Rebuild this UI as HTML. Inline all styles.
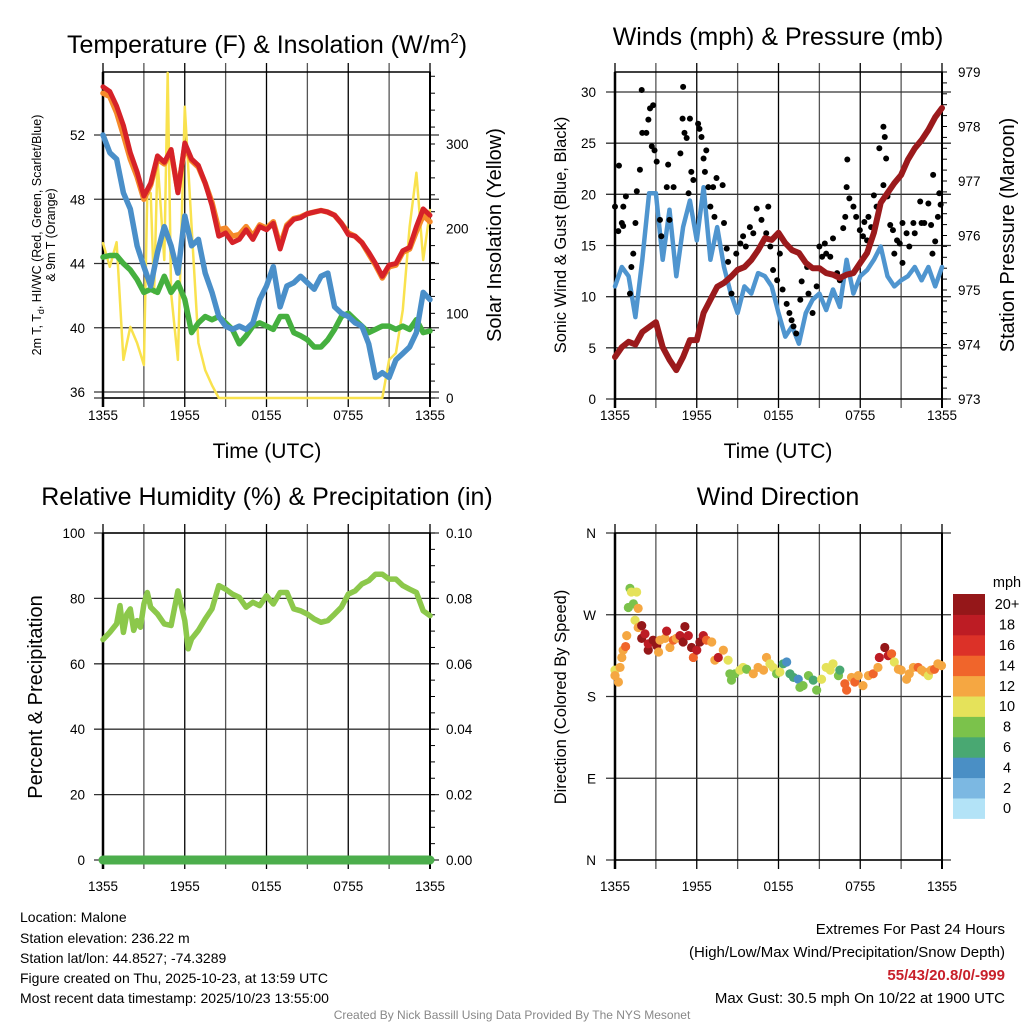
<!DOCTYPE html>
<html><head><meta charset="utf-8">
<style>
html,body{margin:0;padding:0;background:#fff;}
svg{display:block;font-family:"Liberation Sans",Arial,sans-serif;}
</style></head>
<body>
<svg id="c" width="1024" height="1024" viewBox="0 0 1024 1024" xmlns="http://www.w3.org/2000/svg">
<rect width="1024" height="1024" fill="#fff"/>
<text x="267" y="53" font-size="25" text-anchor="middle">Temperature (F) &amp; Insolation (W/m<tspan dy="-10" font-size="15">2</tspan><tspan dy="10">)</tspan></text>
<text x="778" y="45" font-size="25" text-anchor="middle">Winds (mph) &amp; Pressure (mb)</text>
<text x="267" y="505" font-size="25" text-anchor="middle">Relative Humidity (%) &amp; Precipitation (in)</text>
<text x="778" y="505" font-size="25" text-anchor="middle">Wind Direction</text>
<text x="267" y="458" font-size="21" text-anchor="middle">Time (UTC)</text>
<text x="778" y="458" font-size="21" text-anchor="middle">Time (UTC)</text>
<text transform="translate(41,235) rotate(-90)" font-size="12.5" text-anchor="middle">2m T, T<tspan dy="3" font-size="9">d</tspan><tspan dy="-3">, HI/WC (Red, Green, Scarlet/Blue)</tspan></text>
<text transform="translate(55,235) rotate(-90)" font-size="12.5" text-anchor="middle">&amp; 9m T (Orange)</text>
<text transform="translate(501,235) rotate(-90)" font-size="20" text-anchor="middle">Solar Insolation (Yellow)</text>
<text transform="translate(566,235) rotate(-90)" font-size="16.5" text-anchor="middle">Sonic Wind &amp; Gust (Blue, Black)</text>
<text transform="translate(1014,235) rotate(-90)" font-size="20" text-anchor="middle">Station Pressure (Maroon)</text>
<text transform="translate(42,697) rotate(-90)" font-size="20" text-anchor="middle">Percent &amp; Precipitation</text>
<text transform="translate(566,697) rotate(-90)" font-size="16.5" text-anchor="middle">Direction (Colored By Speed)</text>
<g font-size="14">
<text x="20" y="922">Location: Malone</text>
<text x="20" y="943">Station elevation: 236.22 m</text>
<text x="20" y="963">Station lat/lon: 44.8527; -74.3289</text>
<text x="20" y="983">Figure created on Thu, 2025-10-23, at 13:59 UTC</text>
<text x="20" y="1003">Most recent data timestamp: 2025/10/23 13:55:00</text>
</g>
<g font-size="15" text-anchor="end">
<text x="1005" y="934">Extremes For Past 24 Hours</text>
<text x="1005" y="957">(High/Low/Max Wind/Precipitation/Snow Depth)</text>
<text x="1005" y="980" fill="#c8202a" font-weight="bold">55/43/20.8/0/-999</text>
<text x="1005" y="1003">Max Gust: 30.5 mph On 10/22 at 1900 UTC</text>
</g>
<text x="512" y="1019" font-size="12" fill="#888" text-anchor="middle">Created By Nick Bassill Using Data Provided By The NYS Mesonet</text>
</svg>
<script>
// ---------- data ----------
const hours = [0,0.5,1,1.5,2,2.5,3,3.5,4,4.5,5,5.5,6,6.5,7,7.5,8,8.5,9,9.5,10,10.5,11,11.5,12,12.5,13,13.5,14,14.5,15,15.5,16,16.5,17,17.5,18,18.5,19,19.5,20,20.5,21,21.5,22,22.5,23,23.5,24];
const tempRed = [55.0,54.7,53.8,52.6,50.9,49.7,48.2,49.0,50.7,50.3,51.1,48.4,51.5,50.5,50.1,49.0,47.6,45.7,45.9,45.3,45.5,46.1,45.5,46.3,46.1,46.5,44.9,46.3,46.75,46.85,47.1,47.2,47.3,47.2,47.0,46.5,45.8,45.7,45.3,44.7,44.0,43.2,43.9,44.0,44.8,45.0,46.3,47.4,47.0];
const tempOrange = [54.6,54.4,53.4,52.0,50.5,49.4,48.0,48.9,50.5,50.2,51.0,48.5,51.3,50.4,50.0,49.0,47.8,46.1,46.2,45.7,45.8,46.3,45.7,46.4,46.2,46.6,45.1,46.4,46.8,46.9,47.1,47.2,47.3,47.2,47.0,46.5,45.9,45.7,45.3,44.6,43.9,43.1,43.8,43.9,44.7,44.9,46.0,47.0,46.6];
const tempBlue = [52.0,50.9,50.5,48.4,47.4,45.1,43.8,42.6,44.7,46.3,45.1,43.4,46.96,45.1,45.5,43.4,42.2,40.7,40.1,39.9,40.1,39.9,40.3,41.75,42.6,43.8,41.3,42.6,42.8,43.2,42.8,42.4,43.2,43.4,41.3,40.9,40.7,40.3,40.1,39.0,36.9,37.2,36.9,38.0,38.4,38.8,39.7,42.2,41.75];
const tempGreen = [44.4,44.5,44.5,44.0,43.6,43.0,42.2,42.4,42.2,43.2,42.2,42.8,41.75,39.7,40.3,40.7,40.5,40.7,40.3,39.9,39.0,39.5,40.1,40.3,40.1,39.9,40.7,40.7,39.7,39.5,39.25,38.8,38.8,39.25,39.9,40.7,40.9,40.5,40.1,39.7,39.9,40.1,40.1,39.9,40.1,39.9,40.5,39.7,39.8];
const solarHours = [0,0.5,1,1.5,2,2.5,3,3.25,3.5,3.75,4,4.5,4.75,5,5.5,6,6.5,7,7.5,8,8.5,20.5,21,21.5,22,22.5,23,23.5,24];
const solarValues = [183,155,184,45,84,65,39,242,242,124,281,163,384,124,45,344,202,65,33,15,0,0,45,53,104,202,266,163,222];
const pressure = [973.77,973.95,974.05,974.0,974.23,974.32,974.41,973.95,973.72,973.53,973.77,974.08,974.08,974.58,974.82,975.06,975.13,975.24,975.37,975.42,975.55,975.73,975.95,975.92,976.05,975.86,975.73,975.68,975.5,975.4,975.4,975.31,975.28,975.22,975.28,975.31,975.5,975.68,976.05,976.6,976.78,976.96,977.11,977.39,977.6,977.75,977.94,978.17,978.34];
const windSpeed = [11.0,12.9,12.0,8.0,13.6,20.1,20.1,13.6,18.5,12.0,16.8,19.4,15.5,20.7,13.6,16.8,12.9,10.3,8.4,11.0,10.3,12.3,12.0,11.0,8.4,6.1,7.1,5.4,8.4,9.7,10.3,8.7,10.7,9.0,13.6,10.3,12.0,12.6,13.6,14.9,12.0,11.0,11.6,12.0,12.9,11.6,12.9,11.0,12.9];
const gustHours = [0,0.24,0.29,0.61,0.5,0.8,0.6,1.2,1.1,1.34,1.5,1.6,1.83,1.96,2.0,2.3,2.45,2.57,2.8,2.7,2.9,3.06,3.3,3.4,3.8,3.9,4.0,4.3,4.8,5.0,4.96,5.1,5.26,5.4,5.5,5.6,5.75,6.1,6.2,6.35,6.5,6.7,6.6,6.85,7.2,7.45,7.9,7.0,7.3,8.0,8.2,8.3,8.55,8.9,9.2,9.4,9.6,9.9,10.15,10.4,10.75,11.25,11.1,11.4,11.6,11.9,12.1,12.3,12.6,12.8,12.96,13.1,13.3,13.6,13.7,14.1,14.2,14.5,14.8,15.0,15.2,15.4,15.5,15.8,16.0,16.3,16.5,16.75,16.9,17.0,17.05,17.2,17.5,17.7,17.97,18.2,18.5,18.3,18.6,18.8,19.0,19.2,19.4,19.7,19.8,19.9,19.7,20.0,20.2,20.4,20.5,20.7,20.9,21.1,21.1,21.4,21.6,21.9,22.0,22.4,22.5,22.7,23.0,23.2,23.35,23.5,23.7,23.8,23.9,23.3];
const gustValues = [18.8,16.4,22.8,18.8,17.2,19.8,16.9,12.9,10.3,14.2,17.2,20.3,22.4,30.2,26.0,26.0,27.3,28.4,28.7,24.7,24.3,23.2,17.5,15.9,20.7,22.9,17.5,20.7,24.0,30.5,27.4,26.0,25.5,20.1,27.4,22.2,21.4,26.9,26.4,25.6,23.5,24.3,22.2,20.7,20.7,21.6,20.9,18.8,17.8,17.2,14.7,13.4,10.3,14.2,15.2,15.9,14.9,16.8,16.2,18.6,17.5,18.8,16.2,14.9,12.6,11.6,14.2,10.7,9.3,8.4,7.7,7.1,6.4,9.7,11.5,12.9,10.3,8.4,11.0,14.9,13.9,15.2,14.2,13.9,15.7,12.3,11.6,16.7,17.8,20.7,23.4,19.6,18.8,17.8,16.5,15.9,15.5,17.3,17.8,16.8,19.9,18.8,24.5,26.6,25.6,23.5,20.9,19.8,17.0,16.5,14.2,15.5,15.2,17.2,13.3,16.2,14.9,17.2,16.2,19.3,17.2,17.2,19.1,17.0,21.9,15.4,17.8,20.1,19.0,14.2];
const rhHours = [0,0.5,1,1.25,1.5,1.75,2,2.25,2.5,2.75,3,3.25,3.5,4,4.5,5,5.5,6,6.25,6.5,7,7.5,8,8.5,9,9.5,10,10.5,11,11.5,12,12.5,13,13.5,14,14.5,15,15.5,16,16.5,17,17.5,18,18.5,19,19.5,20,20.5,21,21.5,22,22.5,23,23.5,24];
const rhValues = [67.4,69.6,72.2,77.8,69.6,75.2,76.8,70.2,73.2,71.2,78.3,81.8,77.3,75.2,72.2,71.7,82.3,73.2,64.6,67.6,70.2,73.7,76.8,83.9,82.8,81.3,80.3,77.3,78.8,77.8,80.8,78.3,81.8,81.8,76.8,76.2,75.2,73.7,72.7,73.2,75.2,77.3,81.3,82.3,84.4,85.4,87.4,87.4,85.9,85.9,83.9,82.8,81.8,76.2,74.7];
const precipValues = [0,0,0,0,0,0,0,0,0,0,0,0,0,0,0,0,0,0,0,0,0,0,0,0,0,0,0,0,0,0,0,0,0,0,0,0,0,0,0,0,0,0,0,0,0,0,0,0,0];
const dirHours = [0,0,0.25,0.37,0.5,0.6,0.78,0.86,0.98,1.1,1.2,1.35,1.59,1.7,1.47,1.7,1.96,1.96,2.2,2.44,2.44,2.8,3.06,3.2,3.3,3.67,3.79,4.03,4.28,4.5,4.77,5.0,5.13,5.38,5.62,5.75,6.0,6.23,6.48,6.72,7.1,7.33,7.58,7.95,8.3,8.43,8.55,8.8,9.17,9.4,9.66,10.15,10.5,10.9,11.12,11.37,11.6,11.86,12.1,12.35,12.6,12.84,13.1,13.45,13.57,13.8,14.2,14.55,14.8,15.16,15.5,15.8,16.0,16.4,16.5,16.87,17.0,17.36,17.6,17.85,18.2,18.6,18.95,19.3,19.4,19.8,20.05,20.3,20.5,20.8,21.0,21.4,21.6,21.9,22.25,22.5,22.7,23.0,23.2,23.45,23.7,23.96];
const dirValues = [209,203,196,212,223,231,235,247,278,299,295,282,295,277,264,256,258,244,249,231,238,242,236,229,242,244,252,234,242,244,247,240,257,247,234,223,231,240,247,242,240,220,223,231,220,205,198,205,209,212,210,205,212,209,223,216,212,205,207,216,218,205,201,199,190,192,203,198,187,199,212,209,216,203,209,194,187,201,196,203,192,203,205,212,223,234,225,227,218,210,209,199,205,212,212,209,207,203,209,210,216,214];
const dirSpeeds = [10,12,12,12,12,12,14,12,8,8,10,8,10,12,10,12,20,20,18,20,18,20,20,12,12,12,18,12,14,12,18,20,20,18,20,14,18,20,18,14,12,12,18,12,10,8,8,8,10,10,8,12,12,12,12,10,10,8,10,6,4,6,6,4,8,8,8,6,8,10,10,10,10,8,6,14,14,12,14,12,12,12,14,12,18,20,18,14,10,12,12,12,12,12,14,12,12,10,12,14,12,12];
const tempTicks = [36,40,44,48,52];
const solarTicks = [0,100,200,300];
const windTicks = [0,5,10,15,20,25,30];
const pressTicks = [973,974,975,976,977,978,979];
const rhTicks = [0,20,40,60,80,100];
const precipTicks = ["0.00","0.02","0.04","0.06","0.08","0.10"];
const dirTicks = [0,90,180,270,360];
const dirLabels = ["N","E","S","W","N"];
const timeLabels = ["1355","1955","0155","0755","1355"];
const speedBins = ["0","2","4","6","8","10","12","14","16","18","20+"];
const binColors = ["#b3e3f7","#7cb8e2","#4a8fc5","#49a872","#7bc24b","#e5e25a","#f5a742","#f0652b","#dc3128","#bd1c24","#951719"];

// ---------- helpers ----------
const NS="http://www.w3.org/2000/svg";
const svg=document.getElementById('c');
function mk(tag,attrs,parent){const e=document.createElementNS(NS,tag);for(const k in attrs)e.setAttribute(k,attrs[k]);(parent||svg).appendChild(e);return e;}
function lin(d0,d1,r0,r1){return v=>r0+(v-d0)*(r1-r0)/(d1-d0);}

function frame(x0,x1,y0,y1,name){
  const g=mk('g',{});
  
  
  const xs=lin(0,24,x0,x1);
  for(let h=0;h<=24;h+=3){
    const l=mk('line',{x1:xs(h),x2:xs(h),y1:y0-9,y2:y1+9,stroke:(h%6==0)?'#000':'#555','stroke-width':1.3},g);
    
    
  }
  return {g,xs};
}
function hGrid(g,ys,ticks,x0,x1){
  ticks.forEach(t=>{
    const l=mk('line',{x1:x0-9,x2:x1+9,y1:ys(t),y2:ys(t),stroke:'#333','stroke-width':1.3},g);
    
    
  });
}
function border(x0,x1,y0,y1,name){
  const r=mk('rect',{x:x0,y:y0,width:x1-x0,height:y1-y0,fill:'none',stroke:'#000','stroke-width':1.5});
  
  
  mk('line',{x1:x0,x2:x0,y1:y0,y2:y1+9,stroke:'#000','stroke-width':2.5});
  mk('line',{x1:x1,x2:x1,y1:y0,y2:y1+9,stroke:'#000','stroke-width':2});
}
function tickLabels(xs,y){
  timeLabels.forEach((s,i)=>{
    const t=mk('text',{x:xs(i*6),y:y,'font-size':13.5,'text-anchor':'middle'});
    t.textContent=s;
    
    
  });
}
function yLabels(ys,ticks,labels,x,anchor){
  ticks.forEach((v,i)=>{
    const t=mk('text',{x:x,y:ys(v)+5,'font-size':13.5,'text-anchor':anchor});
    t.textContent=labels?labels[i]:String(v);
    
    
  });
}
function minorTicks(x,ys,from,to,step){
  for(let v=from;v<=to+1e-9;v+=step){mk('line',{x1:x,x2:x+5,y1:ys(v),y2:ys(v),stroke:'#000','stroke-width':1});}
}
function line(xs,ys,hx,vals,color,w,name){
  const d=vals.map((v,i)=>(i?'L':'M')+xs(hx[i]).toFixed(1)+' '+ys(v).toFixed(1)).join(' ');
  const p=mk('path',{d:d,fill:'none',stroke:color,'stroke-width':w,'stroke-linejoin':'round','stroke-linecap':'round'});
  
  
  return p;
}

// ---------- panel 1: temperature ----------
(function(){
  const x0=103,x1=430,y0=72,y1=398;
  const f=frame(x0,x1,y0,y1,'temp');const xs=f.xs;
  const ys=lin(36,52,392,135);
  const ss=lin(0,300,398,144);
  hGrid(f.g,ys,tempTicks,x0,x1);
  hGrid(f.g,ss,[0],x0,x1);
  border(x0,x1,y0,y1,'temp');
  minorTicks(x1,ss,0,380,20);
  line(xs,ss,solarHours,solarValues,'#f9e24e',2.5,'solar-insolation-line');
  line(xs,ys,hours,tempGreen,'#45b03f',5.5,'dewpoint-line');
  line(xs,ys,hours,tempBlue,'#4a8fc9',5.5,'heat-index-windchill-line');
  line(xs,ys,hours,tempOrange,'#f58a2a',5.5,'temp-9m-line');
  line(xs,ys,hours,tempRed,'#d62228',5,'temp-2m-line');
  yLabels(ys,tempTicks,null,85,'end');
  yLabels(ss,solarTicks,null,446,'start');
  tickLabels(xs,420);
})();

// ---------- panel 2: winds ----------
(function(){
  const x0=615,x1=942,y0=72,y1=399;
  const f=frame(x0,x1,y0,y1,'wind');const xs=f.xs;
  const ys=lin(0,30,399,92);
  const ps=lin(973,979,399,72);
  hGrid(f.g,ys,windTicks,x0,x1);
  border(x0,x1,y0,y1,'wind');
  minorTicks(x1,ps,973,979,0.2);
  line(xs,ys,hours,windSpeed,'#4f95cf',4.5,'sonic-wind-line');
  const g=mk('g',{});
  
  
  gustHours.forEach((h,i)=>{
    const c=mk('circle',{cx:xs(h),cy:ys(gustValues[i]),r:3,fill:'#000'},g);
    
    
  });
  line(xs,ps,hours,pressure,'#9b1a1c',6,'pressure-line');
  yLabels(ys,windTicks,null,596,'end');
  yLabels(ps,pressTicks,null,958,'start');
  tickLabels(xs,420);
})();

// ---------- panel 3: RH ----------
(function(){
  const x0=103,x1=430,y0=533,y1=860;
  const f=frame(x0,x1,y0,y1,'rh');const xs=f.xs;
  const ys=lin(0,100,860,533);
  const qs=lin(0,0.10,860,533);
  hGrid(f.g,ys,rhTicks,x0,x1);
  border(x0,x1,y0,y1,'rh');
  minorTicks(x1,ys,0,100,5);
  line(xs,ys,rhHours,rhValues,'#8cc84b',5.5,'relative-humidity-line');
  line(xs,qs,hours,precipValues,'#4cae4c',9,'precipitation-line');
  yLabels(ys,rhTicks,null,85,'end');
  yLabels(qs,[0,0.02,0.04,0.06,0.08,0.10],precipTicks,446,'start');
  tickLabels(xs,891);
})();

// ---------- panel 4: direction ----------
(function(){
  const x0=615,x1=942,y0=533,y1=860;
  const f=frame(x0,x1,y0,y1,'direction');const xs=f.xs;
  const ys=lin(0,360,860,533);
  hGrid(f.g,ys,dirTicks,x0,x1);
  border(x0,x1,y0,y1,'direction');
  const g=mk('g',{});
  
  
  dirHours.forEach((h,i)=>{
    const bi=Math.min(10,Math.floor(dirSpeeds[i]/2));
    const c=mk('circle',{cx:xs(h),cy:ys(dirValues[i]),r:4.6,fill:binColors[bi]},g);
    
    
  });
  dirTicks.forEach((v,i)=>{
    const t=mk('text',{x:596,y:ys(v)+5,'font-size':13.5,'text-anchor':'end'});
    t.textContent=dirLabels[i];
    
    
  });
  tickLabels(xs,891);
  // colorbar
  const lg=mk('g',{});
  
  
  const top=594,bh=20.4;
  speedBins.forEach((s,i)=>{
    const y=top+(10-i)*bh;
    const r=mk('rect',{x:953,y:y,width:32,height:bh+0.5,fill:binColors[i]},lg);
    
    
    const t=mk('text',{x:1007,y:y+bh/2+5,'font-size':14.5,'text-anchor':'middle'},lg);
    t.textContent=s;
  });
  const u=mk('text',{x:1007,y:587,'font-size':14.5,'text-anchor':'middle'},lg);
  u.textContent='mph';
})();
</script>
</body></html>
